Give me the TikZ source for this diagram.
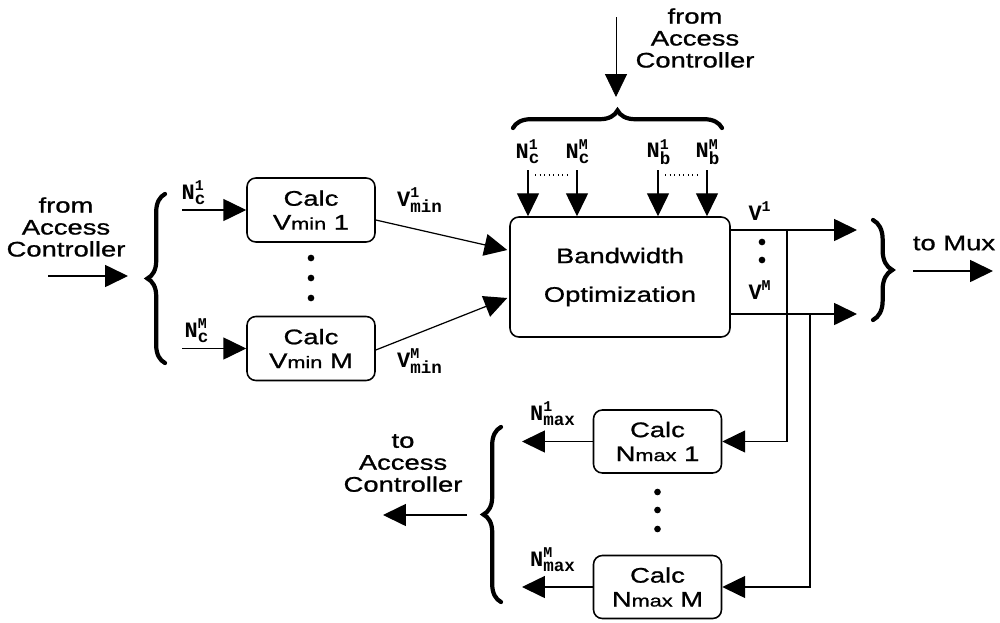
\documentclass[tikz,border=0pt]{standalone}
\usepackage{fontspec}
\setmainfont{Liberation Sans}[FakeStretch=1.3,FakeBold=1]
\setmonofont{Liberation Mono}
\usetikzlibrary{arrows.meta,decorations.pathreplacing,calc}
\newcommand\smx[1]{{\fontsize{9.5}{9.5}\selectfont #1}}
\newcommand\lbl[3]{$\hbox{#1}^{\hbox{\fontsize{8.5}{8.5}\selectfont #3}}_{\hbox{\fontsize{10}{10}\selectfont #2}}$}
\newcommand\lsp[2]{$\hbox{#1}^{\hbox{\fontsize{8.5}{8.5}\selectfont #2}}$}
\begin{document}
\begin{tikzpicture}[x=0.02cm,y=-0.02cm,
  blk/.style={draw, line width=0.9pt, rounded corners=5pt, minimum width=2.56cm,
    minimum height=1.28cm, align=center, inner sep=1pt, font=\fontsize{12}{13.6}\selectfont},
  txt/.style={align=center, inner sep=0pt, font=\fontsize{12}{12.5}\selectfont},
  lab/.style={inner sep=0pt, font=\fontsize{12.5}{13}\selectfont\ttfamily\bfseries},
  arr/.style={line width=0.7pt, -{Triangle[length=13pt,width=12.5pt]}},
  thinarr/.style={line width=0.45pt, -{Triangle[length=13pt,width=12.5pt]}},
  brc/.style={line width=2.4pt, line cap=round, decorate, decoration={brace, amplitude=#1, aspect=0.5}},
  brc/.default=10pt,
  dotc/.style={fill=black}
]
\useasboundingbox (0,0) rectangle (1000,622);

% ---------- left input ----------
\node[txt] (fac1) at (66,227) {from\\Access\\Controller};
\coordinate (a1s) at (48,276);
\coordinate (a1e) at (128,276);
\draw[arr] (a1s) -- (a1e);
\draw[brc] (165,363) -- (165,194);

% ---------- Vmin boxes ----------
\node[blk] (v1) at (311,210) {Calc\\V\smx{min} 1};
\node[blk] (vM) at (311,348.5) {Calc\\V\smx{min} M};
\coordinate (nc1) at (182,210);
\coordinate (ncM) at (182,348.5);
\draw[arr] (nc1) -- (v1.west);
\draw[arr] (ncM) -- (vM.west);
\node[lab] (lnc1) at (194,193) {\lbl{N}{c}{1}};
\node[lab] (lncM) at (197,331) {\lbl{N}{c}{M}};
\fill[dotc] (311,258) circle (1.9pt);
\fill[dotc] (311,278) circle (1.9pt);
\fill[dotc] (311,298) circle (1.9pt);

% ---------- Bandwidth optimisation ----------
\node[blk, minimum width=4.4cm, minimum height=2.4cm, font=\fontsize{12}{22}\selectfont] (bw) at (620,277) {Bandwidth\\Optimization};
\draw[arr] ($(v1.east)+(0,10)$) -- ($(bw.west)+(-2,-27)$);
\draw[arr] ($(vM.east)+(0,1.5)$) -- ($(bw.west)+(-2,21)$);
\node[lab] (lv1) at (420,200) {\lbl{V}{min}{1}};
\node[lab] (lvM) at (420,361) {\lbl{V}{min}{M}};

% ---------- top input ----------
\node[txt] (fac2) at (695,38) {from\\Access\\Controller};
\coordinate (tas) at (616,17);
\coordinate (tae) at (616,97);
\draw[thinarr] (tas) -- (tae);
\draw[brc] (513,128) -- (722,128);
\coordinate (t1) at (528,170);
\coordinate (t2) at (577,170);
\coordinate (t3) at (658,170);
\coordinate (t4) at (707,170);
\foreach \t in {t1,t2,t3,t4} \draw[arr] (\t) -- (\t |- bw.north);
\node[lab] (lt1) at (528,152) {\lbl{N}{c}{1}};
\node[lab] (lt2) at (578,152) {\lbl{N}{c}{M}};
\node[lab] (lt3) at (659,152) {\lbl{N}{b}{1}};
\node[lab] (lt4) at (708,152) {\lbl{N}{b}{M}};
\draw[line width=0.6pt, dotted] ($(t1)+(7,5)$) -- ($(t2)+(-7,5)$);
\draw[line width=0.6pt, dotted] ($(t3)+(7,5)$) -- ($(t4)+(-7,5)$);

% ---------- outputs ----------
\coordinate (o1) at (857,230);
\coordinate (oM) at (857,314);
\draw[arr] (bw.east |- o1) -- (o1);
\draw[arr] (bw.east |- oM) -- (oM);
\node[lab] (lV1) at (760,211) {\lsp{V}{1}};
\node[lab] (lVM) at (760,290) {\lsp{V}{M}};
\fill[dotc] (762,242) circle (1.9pt);
\fill[dotc] (762,260) circle (1.9pt);
\draw[brc=11pt] (873,220) -- (873,320);
\node[txt] (tmux) at (954,243) {to Mux};
\coordinate (mxs) at (913,271);
\coordinate (mxe) at (993,271);
\draw[arr] (mxs) -- (mxe);

% ---------- Nmax boxes ----------
\node[blk, minimum height=1.26cm] (n1) at (657.5,441.5) {Calc\\N\smx{max} 1};
\node[blk, minimum height=1.26cm] (nM) at (657.5,587) {Calc\\N\smx{max} M};
\coordinate (b1) at (787,230);
\coordinate (bM) at (810,314);
\draw[arr] (b1) |- (n1.east);
\draw[arr] (bM) |- (nM.east);
\coordinate (m1) at (522,441.5);
\coordinate (mM) at (522,587);
\draw[arr] (n1.west) -- (m1);
\draw[arr] (nM.west) -- (mM);
\node[lab] (ln1) at (553,414) {\lbl{N}{max}{1}};
\node[lab] (lnM) at (553,560) {\lbl{N}{max}{M}};
\fill[dotc] (657.5,492) circle (1.9pt);
\fill[dotc] (657.5,510) circle (1.9pt);
\fill[dotc] (657.5,529) circle (1.9pt);
\draw[brc] (501,602) -- (501,427);
\node[txt] (tac) at (403,463) {to\\Access\\Controller};
\coordinate (tas2) at (467,515);
\coordinate (tae2) at (383,515);
\draw[arr] (tas2) -- (tae2);
\end{tikzpicture}
\end{document}
